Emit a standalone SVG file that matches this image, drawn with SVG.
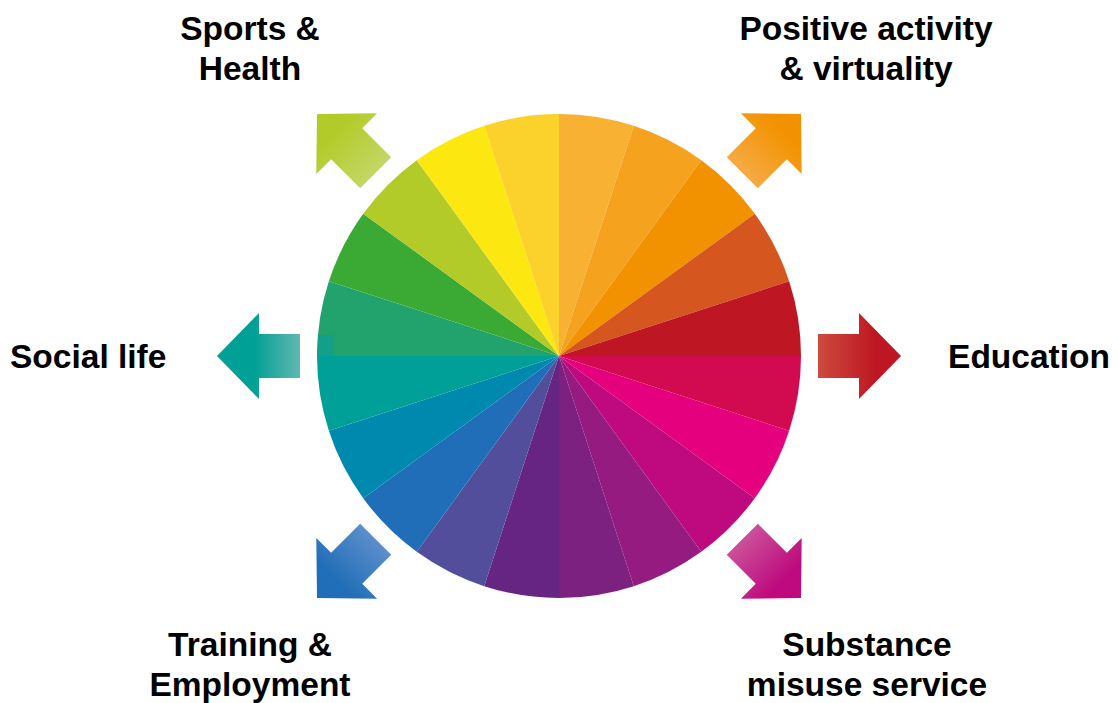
<svg xmlns="http://www.w3.org/2000/svg" width="1118" height="703" viewBox="0 0 1118 703">
<style>
.lbl{font-family:"Liberation Sans",Arial,sans-serif;font-weight:bold;font-size:33.5px;fill:#000}
.mid{text-anchor:middle}
</style>
<defs>
<polygon id="arr" points="0,0 42,-43 42,-22 83,-22 83,22 42,22 42,43"/>
<linearGradient id="gTeal" x1="0" y1="0" x2="1" y2="0"><stop offset="0.45" stop-color="#00A096"/><stop offset="1" stop-color="#62B8B0"/></linearGradient>
<linearGradient id="gRed" x1="0" y1="0" x2="1" y2="0"><stop offset="0.3" stop-color="#BE1622"/><stop offset="1" stop-color="#CD4B3E"/></linearGradient>
<linearGradient id="gGreen" x1="0" y1="0" x2="1" y2="0"><stop offset="0.3" stop-color="#B2CB28"/><stop offset="1" stop-color="#C4D665"/></linearGradient>
<linearGradient id="gOrange" x1="0" y1="0" x2="1" y2="0"><stop offset="0.3" stop-color="#F29200"/><stop offset="1" stop-color="#F6AA45"/></linearGradient>
<linearGradient id="gBlue" x1="0" y1="0" x2="1" y2="0"><stop offset="0.3" stop-color="#1F6EB7"/><stop offset="1" stop-color="#5C8ECB"/></linearGradient>
<linearGradient id="gMag" x1="0" y1="0" x2="1" y2="0"><stop offset="0.3" stop-color="#BE0A7E"/><stop offset="1" stop-color="#CB5099"/></linearGradient>
</defs>
<rect width="1118" height="703" fill="#fff"/>
<g id="wheel">
<path d="M559,356 L559,114 A242,242 0 0 1 633.78,125.84 Z" fill="#F8B133"/>
<path d="M559,356 L633.78,125.84 A242,242 0 0 1 701.25,160.22 Z" fill="#F5A31E"/>
<path d="M559,356 L701.25,160.22 A242,242 0 0 1 754.78,213.75 Z" fill="#F29200"/>
<path d="M559,356 L754.78,213.75 A242,242 0 0 1 789.16,281.22 Z" fill="#D6561F"/>
<path d="M559,356 L789.16,281.22 A242,242 0 0 1 801,356 Z" fill="#BE1622"/>
<path d="M559,356 L801,356 A242,242 0 0 1 789.16,430.78 Z" fill="#D20A50"/>
<path d="M559,356 L789.16,430.78 A242,242 0 0 1 754.78,498.25 Z" fill="#E5007D"/>
<path d="M559,356 L754.78,498.25 A242,242 0 0 1 701.25,551.78 Z" fill="#BE0A7E"/>
<path d="M559,356 L701.25,551.78 A242,242 0 0 1 633.78,586.16 Z" fill="#951B81"/>
<path d="M559,356 L633.78,586.16 A242,242 0 0 1 559,598 Z" fill="#7D2180"/>
<path d="M559,356 L559,598 A242,242 0 0 1 484.22,586.16 Z" fill="#662483"/>
<path d="M559,356 L484.22,586.16 A242,242 0 0 1 416.75,551.78 Z" fill="#524E9B"/>
<path d="M559,356 L416.75,551.78 A242,242 0 0 1 363.22,498.25 Z" fill="#1F6EB7"/>
<path d="M559,356 L363.22,498.25 A242,242 0 0 1 328.84,430.78 Z" fill="#0089AE"/>
<path d="M559,356 L328.84,430.78 A242,242 0 0 1 317,356 Z" fill="#009F98"/>
<path d="M559,356 L317,356 A242,242 0 0 1 328.84,281.22 Z" fill="#22A36E"/>
<path d="M559,356 L328.84,281.22 A242,242 0 0 1 363.22,213.75 Z" fill="#3AAA35"/>
<path d="M559,356 L363.22,213.75 A242,242 0 0 1 416.75,160.22 Z" fill="#B2CB28"/>
<path d="M559,356 L416.75,160.22 A242,242 0 0 1 484.22,125.84 Z" fill="#FCE711"/>
<path d="M559,356 L484.22,125.84 A242,242 0 0 1 559,114 Z" fill="#FBD12B"/>
<path d="M318.5,335 L333.5,335 L333.5,356 L317,356 A242,242 0 0 1 318.5,335 Z" fill="#14A088"/>
</g>
<g id="connectors">
<use id="arrow-social" href="#arr" fill="url(#gTeal)" transform="translate(217,356)"/>
<use id="arrow-education" href="#arr" fill="url(#gRed)" transform="translate(901,356) rotate(180)"/>
<use id="arrow-sports" href="#arr" fill="url(#gGreen)" transform="translate(317,114) rotate(45)"/>
<use id="arrow-positive" href="#arr" fill="url(#gOrange)" transform="translate(801,114) rotate(135)"/>
<use id="arrow-training" href="#arr" fill="url(#gBlue)" transform="translate(317,598) rotate(-45)"/>
<use id="arrow-substance" href="#arr" fill="url(#gMag)" transform="translate(801,598) rotate(225)"/>
</g>
<g id="node-sports"><text class="lbl mid" x="250" y="40">Sports &amp;</text><text class="lbl mid" x="250" y="80">Health</text></g>
<g id="node-positive"><text class="lbl mid" x="866" y="40">Positive activity</text><text class="lbl mid" x="866" y="80">&amp; virtuality</text></g>
<g id="node-social"><text class="lbl" x="10" y="368">Social life</text></g>
<g id="node-education"><text class="lbl" x="1110" y="368" text-anchor="end">Education</text></g>
<g id="node-training"><text class="lbl mid" x="250" y="656">Training &amp;</text><text class="lbl mid" x="250" y="696">Employment</text></g>
<g id="node-substance"><text class="lbl mid" x="867" y="656">Substance</text><text class="lbl mid" x="867" y="696">misuse service</text></g>
</svg>
